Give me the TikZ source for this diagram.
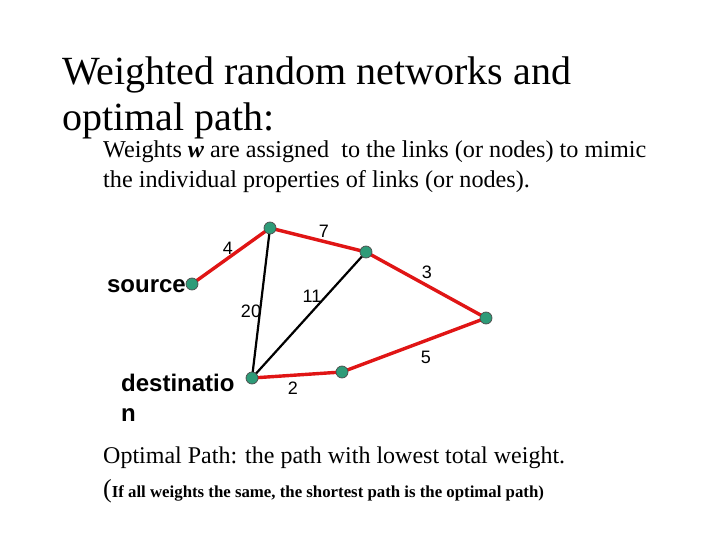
\documentclass[tikz,border=0pt]{standalone}
\usepackage{fontspec}
\setmainfont{Liberation Serif}
\newfontfamily\arialf{Liberation Sans}
\definecolor{nodegreen}{HTML}{2E9B78}
\definecolor{pathred}{HTML}{E01515}
\tikzset{
  vtx/.style={circle,draw=black!70,line width=0.7pt,fill=nodegreen,minimum size=12pt,inner sep=0pt},
  redlink/.style={draw=pathred,line width=3.4pt},
  blacklink/.style={draw=black,line width=2.2pt},
  wlabel/.style={font=\arialf\fontsize{18}{20}\selectfont,inner sep=0pt},
  txt/.style={anchor=base west,inner sep=0pt,align=left},
  endlabel/.style={inner sep=0pt,font=\arialf\bfseries\fontsize{24}{28}\selectfont}
}
\begin{document}
\begin{tikzpicture}[x=1pt,y=-1pt]
\useasboundingbox (0,0) rectangle (720,540);
% titles
\node[txt,font=\fontsize{40}{46}\selectfont] (t1) at (62,85) {Weighted random networks and};
\node[txt,font=\fontsize{40}{46}\selectfont] (t2) at (62,131) {optimal path:};
\node[txt,font=\fontsize{24.2}{30}\selectfont] (b1) at (103,158) {Weights \textbf{\textit{w}} are assigned\ \ to the links (or nodes) to mimic};
\node[txt,font=\fontsize{24.2}{30}\selectfont] (b2) at (103,188) {the individual properties of links (or nodes).};
\node[txt,font=\fontsize{24}{30}\selectfont] (b3) at (103,463) {Optimal Path: the path with lowest total weight.};
\node[txt,font=\fontsize{16.8}{20}\selectfont\bfseries] (b4) at (103,497) {{\mdseries\fontsize{26}{30}\selectfont(}If all weights the same, the shortest path is the optimal path)};
% vertex positions
\coordinate (s) at (192,284);
\coordinate (a) at (270,228);
\coordinate (b) at (366,252);
\coordinate (c) at (486,318);
\coordinate (d) at (342,372);
\coordinate (t) at (252,378);
% links
\draw[blacklink] (t) -- (a);
\draw[blacklink] (t) -- (b);
\draw[redlink] (s) -- (a) -- (b) -- (c) -- (d) -- (t);
% vertices on top
\node[vtx] (vs) at (s) {};
\node[vtx] (va) at (a) {};
\node[vtx] (vb) at (b) {};
\node[vtx] (vc) at (c) {};
\node[vtx] (vd) at (d) {};
\node[vtx] (vt) at (t) {};
% weight labels
\node[wlabel] (l4) at (228,248) {4};
\node[wlabel] (l7) at (324,231) {7};
\node[wlabel] (l3) at (427,272) {3};
\node[wlabel] (l11) at (312,296) {11};
\node[wlabel] (l20) at (251,311) {20};
\node[wlabel] (l5) at (426,357) {5};
\node[wlabel] (l2) at (293,388) {2};
% endpoint labels
\node[endlabel,anchor=base east] (srcl) at (186,292) {source};
\node[endlabel,anchor=base west] (dstl1) at (121,391) {destinatio};
\node[endlabel,anchor=base west] (dstl2) at (121,421) {n};
\end{tikzpicture}
\end{document}
